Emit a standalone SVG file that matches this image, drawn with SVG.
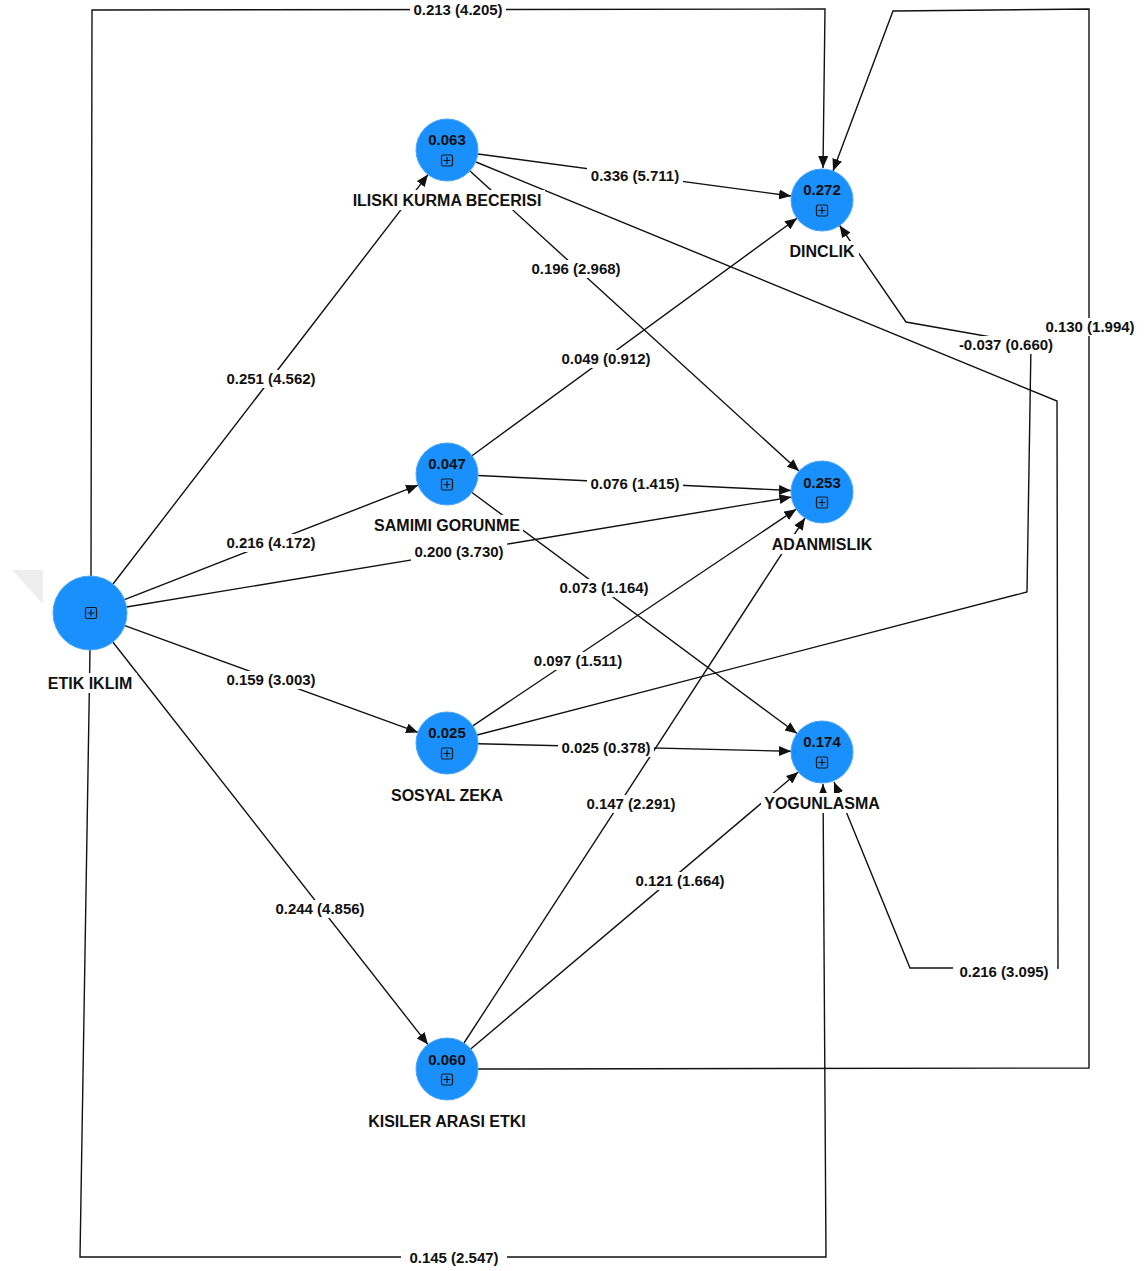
<svg xmlns="http://www.w3.org/2000/svg" width="1145" height="1271" viewBox="0 0 1145 1271">
<style>
.e{fill:none;stroke:#111;stroke-width:1.4;marker-end:url(#ah)}
.e2{fill:none;stroke:#111;stroke-width:1.4}
.lb{fill:#fff}
.lt{font-family:"Liberation Sans",Arial,sans-serif;font-weight:bold;font-size:15px;fill:#111;text-anchor:middle}
.nc{fill:#1a90fc;stroke:#4aa6fb;stroke-width:1}
.nv{font-family:"Liberation Sans",Arial,sans-serif;font-weight:bold;font-size:15px;fill:#111;text-anchor:middle}
.nl{font-family:"Liberation Sans",Arial,sans-serif;font-weight:bold;font-size:16px;fill:#111;text-anchor:middle}
.ic{fill:none;stroke:#1a1a1a;stroke-width:1.2}
</style>
<defs>
<marker id="ah" viewBox="0 0 12 10" refX="12" refY="5" markerWidth="12" markerHeight="10" markerUnits="userSpaceOnUse" orient="auto">
<path d="M0,0 L12,5 L0,10 z" fill="#111"/>
</marker>
<g id="icon">
<rect x="-5.5" y="-5.5" width="11" height="11" rx="1.5" class="ic"/>
<path d="M-3.5,0 H3.5 M0,-3.5 V3.5" class="ic"/>
</g>
</defs>
<rect width="1145" height="1271" fill="#fff"/>
<polygon points="12,570 43,570 43,604" fill="#eeeeee"/>
<g id="connectors">
<path class="e" d="M91,576 L92,10 L825,9 L823,168"/>
<path class="e" d="M478,1069 L1089,1068 L1089,9 L893,11 L833,171"/>
<path class="e" d="M478,154 L791,196"/>
<path class="e" d="M470,171 L799,471"/>
<path class="e" d="M476,162 L1057,401 L1058,968 L910,968 L834,782"/>
<path class="e" d="M113,584 L428,174.6"/>
<path class="e" d="M124.5,599.6 L418,485.2"/>
<path class="e" d="M126.5,607 L791.4,497.1"/>
<path class="e" d="M124.8,625.7 L418,732.4"/>
<path class="e" d="M112.8,642 L428,1044.6"/>
<path class="e" d="M90,650 L80,1257 L826,1257 L823,784"/>
<path class="e" d="M472,455.7 L797,218.3"/>
<path class="e" d="M478,475.5 L791,490.5"/>
<path class="e" d="M472,492.5 L797,733.5"/>
<path class="e" d="M477,735 L1027,592 L1031,344 L906,322 L839.6,225.5"/>
<path class="e" d="M472.8,725.8 L796.2,509.2"/>
<path class="e" d="M478,743.7 L791,751.3"/>
<path class="e" d="M464,1043 L805,518"/>
<path class="e" d="M470.7,1049 L798.3,772"/>
<g id="edge-labels">
<rect class="lb" x="410" y="1" width="96" height="18"/><text class="lt" x="458" y="15.4">0.213 (4.205)</text>
<rect class="lb" x="1042" y="318" width="96" height="18"/><text class="lt" x="1090" y="332.4">0.130 (1.994)</text>
<rect class="lb" x="587" y="167" width="96" height="18"/><text class="lt" x="635" y="181.4">0.336 (5.711)</text>
<rect class="lb" x="528" y="260" width="96" height="18"/><text class="lt" x="576" y="274.4">0.196 (2.968)</text>
<rect class="lb" x="953" y="963" width="104" height="18"/><text class="lt" x="1004" y="977.4">0.216 (3.095)</text>
<rect class="lb" x="223" y="370" width="96" height="18"/><text class="lt" x="271" y="384.4">0.251 (4.562)</text>
<rect class="lb" x="223" y="534" width="96" height="18"/><text class="lt" x="271" y="548.4">0.216 (4.172)</text>
<rect class="lb" x="411" y="543" width="96" height="18"/><text class="lt" x="459" y="557.4">0.200 (3.730)</text>
<rect class="lb" x="223" y="671" width="96" height="18"/><text class="lt" x="271" y="685.4">0.159 (3.003)</text>
<rect class="lb" x="272" y="900" width="96" height="18"/><text class="lt" x="320" y="914.4">0.244 (4.856)</text>
<rect class="lb" x="401" y="1249" width="106" height="18"/><text class="lt" x="454" y="1263.4">0.145 (2.547)</text>
<rect class="lb" x="558" y="350" width="96" height="18"/><text class="lt" x="606" y="364.4">0.049 (0.912)</text>
<rect class="lb" x="587" y="475" width="96" height="18"/><text class="lt" x="635" y="489.4">0.076 (1.415)</text>
<rect class="lb" x="556" y="579" width="96" height="18"/><text class="lt" x="604" y="593.4">0.073 (1.164)</text>
<rect class="lb" x="954" y="336" width="104" height="18"/><text class="lt" x="1006" y="350.4">-0.037 (0.660)</text>
<rect class="lb" x="530" y="652" width="96" height="18"/><text class="lt" x="578" y="666.4">0.097 (1.511)</text>
<rect class="lb" x="558" y="739" width="96" height="18"/><text class="lt" x="606" y="753.4">0.025 (0.378)</text>
<rect class="lb" x="583" y="795" width="96" height="18"/><text class="lt" x="631" y="809.4">0.147 (2.291)</text>
<rect class="lb" x="632" y="872" width="96" height="18"/><text class="lt" x="680" y="886.4">0.121 (1.664)</text>
</g>
</g>
<g id="node-etik">
<circle class="nc" cx="90" cy="613" r="37"/>
<use href="#icon" x="91" y="613"/>
<rect class="lb" x="45" y="673" width="92" height="20"/>
<text class="nl" x="90" y="689">ETIK IKLIM</text>
</g>
<g id="node-iliski">
<circle class="nc" cx="447" cy="150" r="31"/>
<text class="nv" x="447" y="145">0.063</text>
<use href="#icon" x="447" y="160.5"/>
<rect class="lb" x="349" y="190" width="196" height="20"/>
<text class="nl" x="447" y="206">ILISKI KURMA BECERISI</text>
</g>
<g id="node-samimi">
<circle class="nc" cx="447" cy="474" r="31"/>
<text class="nv" x="447" y="469">0.047</text>
<use href="#icon" x="447" y="484.5"/>
<rect class="lb" x="371" y="515" width="152" height="20"/>
<text class="nl" x="447" y="531">SAMIMI GORUNME</text>
</g>
<g id="node-sosyal">
<circle class="nc" cx="447" cy="743" r="31"/>
<text class="nv" x="447" y="738">0.025</text>
<use href="#icon" x="447" y="753.5"/>
<rect class="lb" x="386" y="785" width="122" height="20"/>
<text class="nl" x="447" y="801">SOSYAL ZEKA</text>
</g>
<g id="node-kisiler">
<circle class="nc" cx="447" cy="1069" r="31"/>
<text class="nv" x="447" y="1065">0.060</text>
<use href="#icon" x="447" y="1079.5"/>
<rect class="lb" x="364" y="1111" width="166" height="20"/>
<text class="nl" x="447" y="1127">KISILER ARASI ETKI</text>
</g>
<g id="node-dinclik">
<circle class="nc" cx="822" cy="200" r="31"/>
<text class="nv" x="822" y="195">0.272</text>
<use href="#icon" x="822" y="210.5"/>
<rect class="lb" x="787" y="241" width="72" height="20"/>
<text class="nl" x="822" y="257">DINCLIK</text>
</g>
<g id="node-adanmislik">
<circle class="nc" cx="822" cy="492" r="31"/>
<text class="nv" x="822" y="488">0.253</text>
<use href="#icon" x="822" y="502.5"/>
<rect class="lb" x="769" y="534" width="106" height="20"/>
<text class="nl" x="822" y="550">ADANMISLIK</text>
</g>
<g id="node-yogunlasma">
<circle class="nc" cx="822" cy="752" r="31"/>
<text class="nv" x="822" y="747">0.174</text>
<use href="#icon" x="822" y="762.5"/>
<rect class="lb" x="761" y="793" width="122" height="20"/>
<text class="nl" x="822" y="809">YOGUNLASMA</text>
</g>
</svg>
